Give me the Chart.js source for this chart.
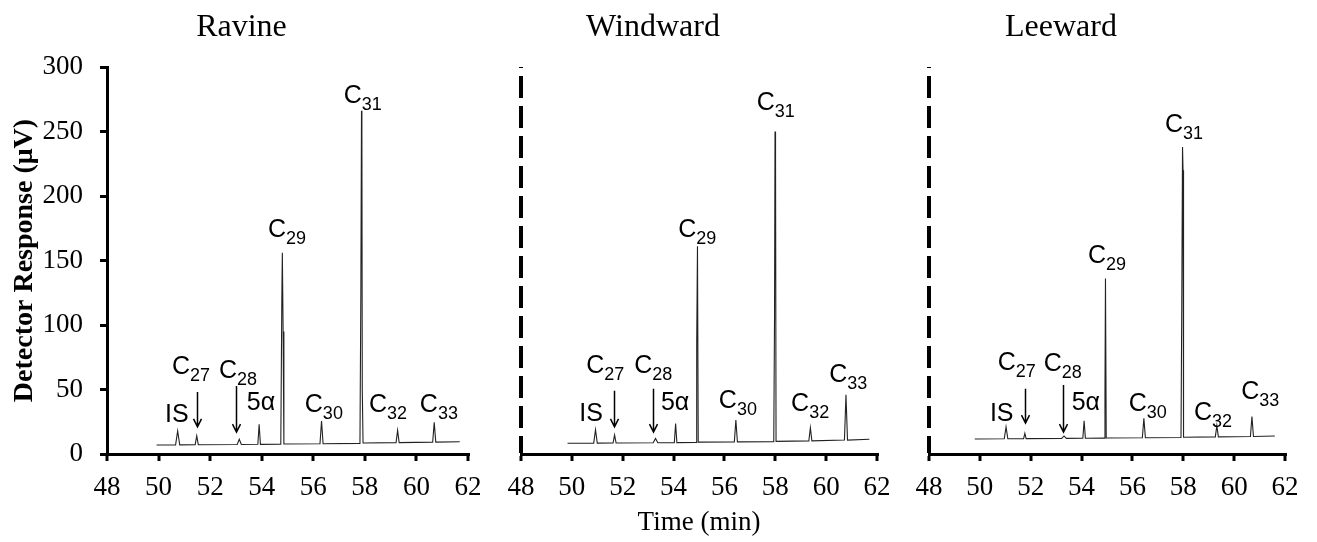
<!DOCTYPE html>
<html>
<head>
<meta charset="utf-8">
<script src="https://cdn.jsdelivr.net/npm/chart.js@4.4.0/dist/chart.umd.min.js"></script>
<style>
  body { margin: 0; background: #fff; }
  #wrap { position: relative; width: 1317px; height: 542px; }
  #wrap canvas { position: absolute; left: 0; top: 0; }
</style>
</head>
<body>
<div id="wrap">
  <canvas id="ravine" width="1317" height="542"></canvas>
  <canvas id="windward" width="1317" height="542"></canvas>
  <canvas id="leeward" width="1317" height="542"></canvas>
</div>
<script>
// axis ticks
const timeMin = 48, timeMax = 62, timeStep = 2;
const respMin = 0, respMax = 300, respStep = 50;

// peak names (main text + subscript)
const peakMain = ['IS', 'C', 'C', '5α', 'C', 'C', 'C', 'C', 'C'];
const peakSub  = ['',  '27', '28', '',  '29', '30', '31', '32', '33'];

// Ravine trace (min, µV)
const ravineTime = [49.92, 50.66, 50.74, 50.82, 51.42, 51.48, 51.54, 53.05, 53.13, 53.21,
  53.85, 53.90, 53.95, 54.74, 54.78, 54.80, 54.83, 54.86, 56.26, 56.32, 56.38,
  57.81, 57.845, 57.87, 57.885, 57.90, 57.93, 59.21, 59.27, 59.33, 60.63, 60.69, 60.75, 61.68];
const ravineResp = [7.0, 7.1, 17.8, 7.1, 7.2, 14.0, 7.2, 7.4, 11.4, 7.4,
  7.5, 23.0, 7.5, 7.6, 120, 156, 95, 7.7, 7.9, 25.6, 7.9,
  8.2, 127, 266, 248, 50, 8.5, 8.8, 18.3, 8.8, 9.2, 24.5, 9.2, 9.5];

// Windward trace
const windwardTime = [49.83, 50.86, 50.93, 51.00, 51.62, 51.68, 51.74, 53.20, 53.29, 53.38,
  54.03, 54.08, 54.13, 54.89, 54.91, 54.94, 54.97, 56.39, 56.45, 56.51,
  57.94, 57.97, 57.99, 58.01, 58.03, 59.32, 59.38, 59.44, 60.72, 60.78, 60.84, 61.70];
const windwardResp = [8.3, 8.4, 18.8, 8.4, 8.5, 14.7, 8.5, 8.7, 12.0, 8.7,
  8.8, 23.7, 8.8, 9.0, 86, 161, 9.2, 9.4, 26.4, 9.4,
  9.6, 105, 250, 230, 9.8, 10.2, 20.4, 10.2, 10.8, 46, 10.8, 11.4];

// Leeward trace
const leewardTime = [49.80, 50.96, 51.03, 51.10, 51.72, 51.77, 51.82, 53.22, 53.31, 53.40,
  54.05, 54.10, 54.15, 54.89, 54.92, 54.94, 54.97, 56.39, 56.45, 56.51,
  57.91, 57.94, 57.97, 57.99, 58.01, 59.26, 59.32, 59.38, 60.64, 60.70, 60.76, 61.60];
const leewardResp = [11.6, 11.8, 21.0, 11.8, 11.9, 16.0, 11.9, 12.1, 14.0, 12.1,
  12.2, 25.8, 12.2, 12.3, 47, 136, 12.4, 12.6, 27.6, 12.6,
  12.8, 114, 238, 220, 13.0, 13.3, 22.0, 13.3, 13.6, 29.0, 13.6, 14.0];

// label anchors (centre time, baseline response)
const ravineLabelTime = [50.71, 51.26, 53.08, 53.97, 54.98, 56.41, 57.92, 58.90, 60.87];
const ravineLabelResp = [24.8, 62, 59, 34, 168, 32.6, 272, 32.6, 32.6];
const windwardLabelTime = [50.76, 51.31, 53.20, 54.06, 54.93, 56.53, 58.02, 59.37, 60.87];
const windwardLabelResp = [25.8, 63, 63, 34, 168, 36, 267, 33, 56];
const leewardLabelTime = [50.86, 51.45, 53.26, 54.17, 55.00, 56.60, 58.03, 59.17, 61.03];
const leewardLabelResp = [25.8, 65, 64, 34, 148, 33, 250, 26, 43];

// arrows for C27 and C28 (time, from, to)
const ravineArrowTime = [51.48, 53.02], ravineArrowFrom = [48, 52.7], ravineArrowTo = [21, 17];
const windwardArrowTime = [51.64, 53.21], windwardArrowFrom = [49, 50.5], windwardArrowTo = [21, 17];
const leewardArrowTime = [51.77, 53.28], leewardArrowFrom = [50.5, 53.5], leewardArrowTo = [24, 17];

const serif = '"Liberation Serif", "Times New Roman", serif';
const sans = '"Liberation Sans", Arial, sans-serif';

const peakText = {
  id: 'peakText',
  afterDatasetsDraw(chart, args, opts) {
    const ctx = chart.ctx, xs = chart.scales.x, ys = chart.scales.y, area = chart.chartArea;
    ctx.save();
    ctx.fillStyle = '#000';
    ctx.strokeStyle = '#000';
    // panel title
    ctx.font = '32px ' + serif;
    ctx.textAlign = 'center';
    ctx.textBaseline = 'alphabetic';
    ctx.fillText(opts.title, (area.left + area.right) / 2 - 46, 36);
    // peak labels
    ctx.textAlign = 'left';
    const mainFont = '25px ' + sans, subFont = '18px ' + sans;
    opts.labelTime.forEach((t, i) => {
      const x = xs.getPixelForValue(t), y = ys.getPixelForValue(opts.labelResp[i]);
      ctx.font = mainFont;
      const w1 = ctx.measureText(peakMain[i]).width;
      ctx.font = subFont;
      const w2 = peakSub[i] ? ctx.measureText(peakSub[i]).width : 0;
      const x0 = x - (w1 + w2) / 2;
      ctx.font = mainFont;
      ctx.fillText(peakMain[i], x0, y);
      if (peakSub[i]) {
        ctx.font = subFont;
        ctx.fillText(peakSub[i], x0 + w1, y + 7);
      }
    });
    // arrows
    ctx.lineWidth = 1.5;
    opts.arrowTime.forEach((t, i) => {
      const x = Math.round(xs.getPixelForValue(t)) + 0.5;
      const y1 = ys.getPixelForValue(opts.arrowFrom[i]);
      const y2 = ys.getPixelForValue(opts.arrowTo[i]);
      ctx.beginPath();
      ctx.moveTo(x, y1);
      ctx.lineTo(x, y2);
      ctx.moveTo(x - 4, y2 - 8);
      ctx.lineTo(x, y2);
      ctx.lineTo(x + 4, y2 - 8);
      ctx.stroke();
    });
    ctx.restore();
  }
};

function makePanel(id, p) {
  const pts = p.time.map((t, i) => ({ x: t, y: p.resp[i] }));
  // panels 2 and 3: the left edge is a dashed vertical grid line at t = 48
  const dashedEdge = !p.showY;
  return new Chart(document.getElementById(id), {
    type: 'line',
    data: {
      datasets: [{
        data: pts,
        borderColor: '#222',
        borderWidth: 1.1,
        pointRadius: 0,
        tension: 0,
        fill: false
      }]
    },
    options: {
      responsive: false,
      animation: false,
      events: [],
      layout: { padding: { left: p.padLeft, right: p.padRight, top: 67, bottom: 0 } },
      plugins: {
        legend: { display: false },
        tooltip: { enabled: false },
        peakText: {
          title: p.title,
          labelTime: p.labelTime, labelResp: p.labelResp,
          arrowTime: p.arrowTime, arrowFrom: p.arrowFrom, arrowTo: p.arrowTo
        }
      },
      scales: {
        x: {
          type: 'linear',
          min: timeMin, max: timeMax,
          afterFit: s => { s.height = 88; },
          ticks: { stepSize: timeStep, color: '#000', padding: 11, font: { family: serif, size: 27 } },
          grid: {
            drawOnChartArea: dashedEdge,
            color: c => (c.tick && c.tick.value === timeMin) ? '#000' : 'rgba(0,0,0,0)',
            lineWidth: 4,
            tickLength: 7, tickWidth: 3, tickColor: '#000', tickBorderDash: []
          },
          border: { display: true, color: '#000', width: 3, dash: [22, 8], dashOffset: 21 },
          title: {
            display: p.showTime, text: 'Time (min)', color: '#000',
            font: { family: serif, size: 27 }, padding: { top: 0, bottom: 3 }
          }
        },
        y: {
          type: 'linear',
          min: respMin, max: respMax,
          afterFit: s => { s.width = p.yWidth; },
          ticks: { display: p.showY, stepSize: respStep, color: '#000', padding: 17, font: { family: serif, size: 27 } },
          grid: { drawOnChartArea: false, drawTicks: p.showY, tickLength: 7, tickWidth: 3, tickColor: '#000' },
          border: { display: p.showY, color: '#000', width: 3 },
          title: {
            display: p.showY, text: 'Detector Response (μV)', color: '#000',
            font: { family: serif, size: 28, weight: 'bold' }, padding: { top: 8, bottom: 0 }
          }
        }
      }
    },
    plugins: [peakText]
  });
}

makePanel('ravine', {
  title: 'Ravine', time: ravineTime, resp: ravineResp,
  labelTime: ravineLabelTime, labelResp: ravineLabelResp,
  arrowTime: ravineArrowTime, arrowFrom: ravineArrowFrom, arrowTo: ravineArrowTo,
  padLeft: 0, padRight: 849, yWidth: 107, showY: true, showTime: false
});
makePanel('windward', {
  title: 'Windward', time: windwardTime, resp: windwardResp,
  labelTime: windwardLabelTime, labelResp: windwardLabelResp,
  arrowTime: windwardArrowTime, arrowFrom: windwardArrowFrom, arrowTo: windwardArrowTo,
  padLeft: 511, padRight: 440, yWidth: 10, showY: false, showTime: true
});
makePanel('leeward', {
  title: 'Leeward', time: leewardTime, resp: leewardResp,
  labelTime: leewardLabelTime, labelResp: leewardLabelResp,
  arrowTime: leewardArrowTime, arrowFrom: leewardArrowFrom, arrowTo: leewardArrowTo,
  padLeft: 919, padRight: 32, yWidth: 10, showY: false, showTime: false
});
</script>
</body>
</html>
